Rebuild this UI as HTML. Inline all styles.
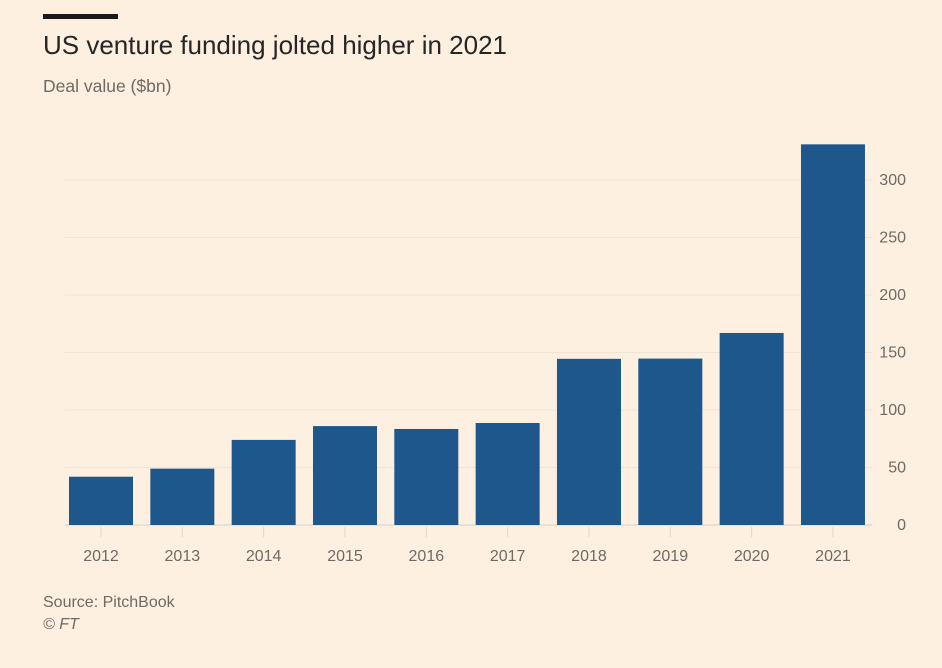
<!DOCTYPE html>
<html><head><meta charset="utf-8"><style>
html,body{margin:0;padding:0;background:#fdf0e1;}
body{width:942px;height:668px;position:relative;overflow:hidden;font-family:"Liberation Sans",sans-serif;}
.t{position:absolute;}
</style></head><body>
<div class="t" style="left:43px;top:14px;width:75px;height:5px;background:#1a1a1a"></div>
<div class="t" style="left:43px;top:30px;font-size:26px;color:#262626">US venture funding jolted higher in 2021</div>
<div class="t" style="left:43px;top:76px;font-size:17.5px;color:#6f6a64">Deal value ($bn)</div>
<svg id="chart" width="942" height="668" style="position:absolute;left:0;top:0"></svg>
<div class="t" style="left:43px;top:594px;font-size:16px;color:#6f6a64">Source: PitchBook</div>
<div class="t" style="left:43px;top:616px;font-size:16px;color:#6f6a64;font-style:italic">© FT</div>
<script>
const categories=["2012","2013","2014","2015","2016","2017","2018","2019","2020","2021"];
const values=[42,49,74,86,83.5,88.7,144.5,144.7,167,331];
const yTicks=[0,50,100,150,200,250,300];
const svg=document.getElementById('chart');
const NS='http://www.w3.org/2000/svg';
const y0=525,pxPer=1.15,x0=69,step=81.33,bw=64;
const yScale=v=>y0-v*pxPer;
const xScale=i=>x0+i*step;
function mk(t,a){const e=document.createElementNS(NS,t);for(const k in a)e.setAttribute(k,a[k]);svg.appendChild(e);return e;}
yTicks.forEach(v=>{
  const y=yScale(v);
  const g=mk('line',{x1:65,x2:872,y1:y,y2:y,stroke:v===0?'#d8cfc4':'#f1e4d4','stroke-width':1});
  
  
  const t=mk('text',{x:906,y:y+5,'text-anchor':'end','font-size':16,fill:'#6f6a64','font-family':'Liberation Sans, sans-serif'});
  t.textContent=v;
  
  
});
categories.forEach((c,i)=>{
  const x=xScale(i);
  const r=mk('rect',{x:x,y:yScale(values[i]),width:bw,height:values[i]*pxPer,fill:'#1d578c'});
  
  
  const tk=mk('line',{x1:x+bw/2,x2:x+bw/2,y1:y0+2,y2:y0+12,stroke:'#e0d5c8','stroke-width':1});
  
  
  const t=mk('text',{x:x+bw/2,y:y0+36,'text-anchor':'middle','font-size':16,fill:'#6f6a64','font-family':'Liberation Sans, sans-serif'});
  t.textContent=c;
  
  
});
</script>
</body></html>
